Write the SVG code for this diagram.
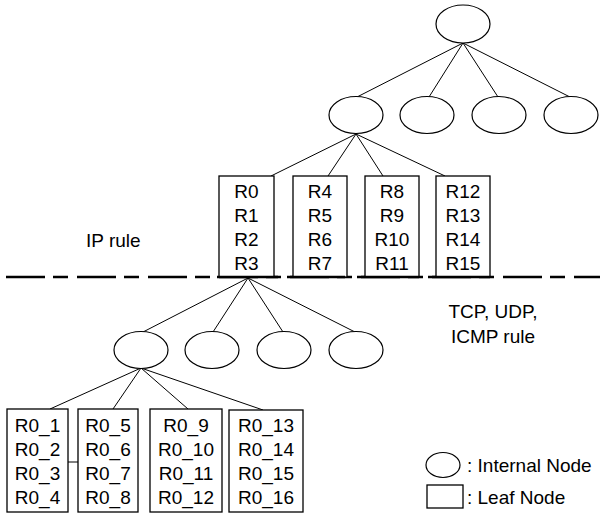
<svg xmlns="http://www.w3.org/2000/svg" width="606" height="515" viewBox="0 0 606 515">
  <style>
    .inode { fill: #fff; stroke: #000; stroke-width: 1.2; }
    .leaf { fill: #fff; stroke: #000; stroke-width: 1.3; }
    .edge { stroke: #000; stroke-width: 1; fill: none; }
    .base { stroke: #000; stroke-width: 2.5; }
    text { font-family: "Liberation Sans", Arial, sans-serif; font-size: 19px; fill: #000; }
    .c { text-anchor: middle; }
  </style>

  <!-- rule boundary -->
  <line x1="6" y1="277" x2="600" y2="277" stroke="#000" stroke-width="2.5" stroke-dasharray="39 8 15 9"/>

  <g id="connectors">
    <!-- root to level 1 -->
    <line class="edge" x1="463" y1="43" x2="357" y2="97"/>
    <line class="edge" x1="463" y1="43" x2="429" y2="97"/>
    <line class="edge" x1="463" y1="43" x2="498" y2="97"/>
    <line class="edge" x1="463" y1="43" x2="570" y2="97"/>
    <!-- level 1 to IP leaves -->
    <line class="edge" x1="356" y1="134" x2="271" y2="176"/>
    <line class="edge" x1="356" y1="134" x2="328" y2="176"/>
    <line class="edge" x1="356" y1="134" x2="383" y2="176"/>
    <line class="edge" x1="356" y1="134" x2="445" y2="176"/>
    <!-- R0..R3 leaf to second tree -->
    <line class="edge" x1="248" y1="278" x2="143" y2="332"/>
    <line class="edge" x1="248" y1="278" x2="213" y2="332"/>
    <line class="edge" x1="248" y1="278" x2="283" y2="332"/>
    <line class="edge" x1="248" y1="278" x2="355" y2="332"/>
    <!-- second tree to protocol leaves -->
    <line class="edge" x1="141" y1="368" x2="50" y2="409"/>
    <line class="edge" x1="141" y1="368" x2="113" y2="409"/>
    <line class="edge" x1="141" y1="368" x2="188" y2="409"/>
    <line class="edge" x1="141" y1="368" x2="263" y2="410"/>
    <line class="edge" x1="68" y1="462" x2="78" y2="462"/>
  </g>

  <!-- IP rule tree -->
  <g id="root"><ellipse class="inode" cx="463" cy="24" rx="27" ry="19"/></g>
  <g id="n1"><ellipse class="inode" cx="356" cy="115" rx="27" ry="18.5"/></g>
  <g id="n2"><ellipse class="inode" cx="427" cy="115" rx="27" ry="18.5"/></g>
  <g id="n3"><ellipse class="inode" cx="499" cy="115" rx="27" ry="18.5"/></g>
  <g id="n4"><ellipse class="inode" cx="571" cy="115" rx="27" ry="18.5"/></g>

  <g id="leafR0">
    <rect class="leaf" x="219" y="176" width="55" height="101"/>
    <line class="base" x1="217" y1="277" x2="278" y2="277"/>
    <text class="c" x="246.5" y="198">R0</text>
    <text class="c" x="246.5" y="222">R1</text>
    <text class="c" x="246.5" y="246">R2</text>
    <text class="c" x="246.5" y="270">R3</text>
  </g>
  <g id="leafR4">
    <rect class="leaf" x="293" y="176" width="54" height="101"/>
    <line class="base" x1="287" y1="277" x2="345" y2="277"/>
    <text class="c" x="320" y="198">R4</text>
    <text class="c" x="320" y="222">R5</text>
    <text class="c" x="320" y="246">R6</text>
    <text class="c" x="320" y="270">R7</text>
  </g>
  <g id="leafR8">
    <rect class="leaf" x="365" y="176" width="54" height="101"/>
    <line class="base" x1="357" y1="277" x2="419" y2="277"/>
    <text class="c" x="392" y="198">R8</text>
    <text class="c" x="392" y="222">R9</text>
    <text class="c" x="392" y="246">R10</text>
    <text class="c" x="392" y="270">R11</text>
  </g>
  <g id="leafR12">
    <rect class="leaf" x="436" y="176" width="54" height="101"/>
    <line class="base" x1="428" y1="277" x2="490" y2="277"/>
    <text class="c" x="463" y="198">R12</text>
    <text class="c" x="463" y="222">R13</text>
    <text class="c" x="463" y="246">R14</text>
    <text class="c" x="463" y="270">R15</text>
  </g>

  <!-- TCP/UDP/ICMP rule tree -->
  <g id="m1"><ellipse class="inode" cx="141" cy="350" rx="27" ry="18.5"/></g>
  <g id="m2"><ellipse class="inode" cx="212" cy="350" rx="27" ry="18.5"/></g>
  <g id="m3"><ellipse class="inode" cx="284" cy="350" rx="27" ry="18.5"/></g>
  <g id="m4"><ellipse class="inode" cx="356" cy="350" rx="27" ry="18.5"/></g>

  <g id="leafR0_1">
    <rect class="leaf" x="7" y="409" width="61" height="103"/>
    <text class="c" x="37.5" y="432">R0_1</text>
    <text class="c" x="37.5" y="456">R0_2</text>
    <text class="c" x="37.5" y="480">R0_3</text>
    <text class="c" x="37.5" y="504">R0_4</text>
  </g>
  <g id="leafR0_5">
    <rect class="leaf" x="78" y="409" width="60" height="103"/>
    <text class="c" x="108" y="432">R0_5</text>
    <text class="c" x="108" y="456">R0_6</text>
    <text class="c" x="108" y="480">R0_7</text>
    <text class="c" x="108" y="504">R0_8</text>
  </g>
  <g id="leafR0_9">
    <rect class="leaf" x="150" y="409" width="72" height="103"/>
    <text class="c" x="186" y="432">R0_9</text>
    <text class="c" x="186" y="456">R0_10</text>
    <text class="c" x="186" y="480">R0_11</text>
    <text class="c" x="186" y="504">R0_12</text>
  </g>
  <g id="leafR0_13">
    <rect class="leaf" x="229" y="410" width="74" height="102"/>
    <text class="c" x="266" y="432">R0_13</text>
    <text class="c" x="266" y="456">R0_14</text>
    <text class="c" x="266" y="480">R0_15</text>
    <text class="c" x="266" y="504">R0_16</text>
  </g>

  <!-- region labels -->
  <text x="86" y="247">IP rule</text>
  <text class="c" x="493" y="318">TCP, UDP,</text>
  <text class="c" x="493" y="343">ICMP rule</text>

  <!-- legend -->
  <g id="legend">
    <ellipse class="inode" cx="443" cy="465" rx="17" ry="12.5"/>
    <text x="467" y="472">: Internal Node</text>
    <rect class="leaf" x="427" y="485" width="36" height="23"/>
    <text x="467" y="504">: Leaf Node</text>
  </g>
</svg>
